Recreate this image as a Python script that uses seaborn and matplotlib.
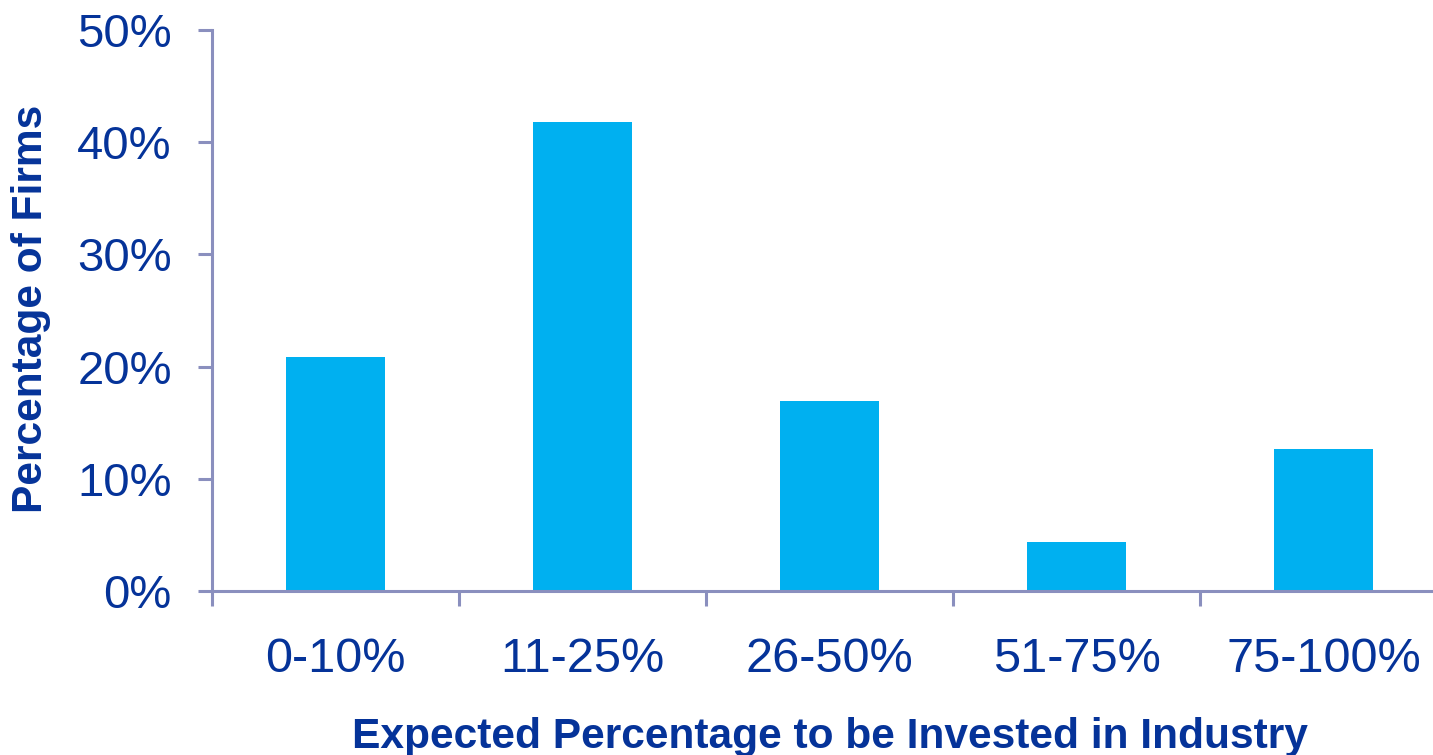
import matplotlib
matplotlib.use("Agg")
import matplotlib.pyplot as plt
from matplotlib.ticker import FuncFormatter, FixedLocator
import seaborn as sns
import pandas as pd

# Share of firms by expected percentage to be invested in industry
categories = ["0-10%", "11-25%", "26-50%", "51-75%", "75-100%"]
firm_share = [20.9, 41.8, 16.9, 4.4, 12.7]
y_ticks = [0, 10, 20, 30, 40, 50]

BAR_COLOR = "#00B0F0"
TEXT_COLOR = "#053399"
AXIS_COLOR = "#8A8FBE"

sns.set_style("white")
plt.rcParams["font.family"] = ["Liberation Sans", "DejaVu Sans"]

df = pd.DataFrame({"category": categories, "share": firm_share})

fig = plt.figure(figsize=(14.33, 7.55), dpi=100)
ax = fig.add_axes([212 / 1433, 1 - 591 / 755, 1235 / 1433, 561 / 755])

sns.barplot(data=df, x="category", y="share", color=BAR_COLOR, saturation=1,
            width=0.4, ax=ax, edgecolor="none")

ax.set_xlim(-0.5, len(categories) - 0.5)
ax.set_ylim(0, 50)
ax.set_yticks(y_ticks)
ax.yaxis.set_major_formatter(FuncFormatter(lambda v, _: f"{v:.0f}%"))

# Category boundary ticks on the x axis
ax.xaxis.set_minor_locator(FixedLocator([i - 0.5 for i in range(len(categories) + 1)]))
ax.tick_params(axis="x", which="major", length=0, pad=33, labelsize=35,
               labelcolor=TEXT_COLOR)
ax.tick_params(axis="x", which="minor", length=11, width=2.2, color=AXIS_COLOR,
               direction="out", bottom=True)
ax.tick_params(axis="y", which="major", length=10, width=2.2, color=AXIS_COLOR,
               direction="out", pad=19, labelsize=34, labelcolor=TEXT_COLOR, left=True)

for side in ("top", "right"):
    ax.spines[side].set_visible(False)
for side in ("left", "bottom"):
    ax.spines[side].set_color(AXIS_COLOR)
    ax.spines[side].set_linewidth(2.2)

ax.set_xlabel("")
ax.set_ylabel("")
fig.text(830 / 1433, 1 - 748 / 755, "Expected Percentage to be Invested in Industry",
         ha="center", va="baseline", fontsize=30.6, fontweight="bold", color=TEXT_COLOR)
fig.text(31 / 1433, 1 - 309 / 755, "Percentage of Firms", rotation=90,
         ha="center", va="center", fontsize=30.6, fontweight="bold", color=TEXT_COLOR)

fig.savefig("out.png", dpi=100)
